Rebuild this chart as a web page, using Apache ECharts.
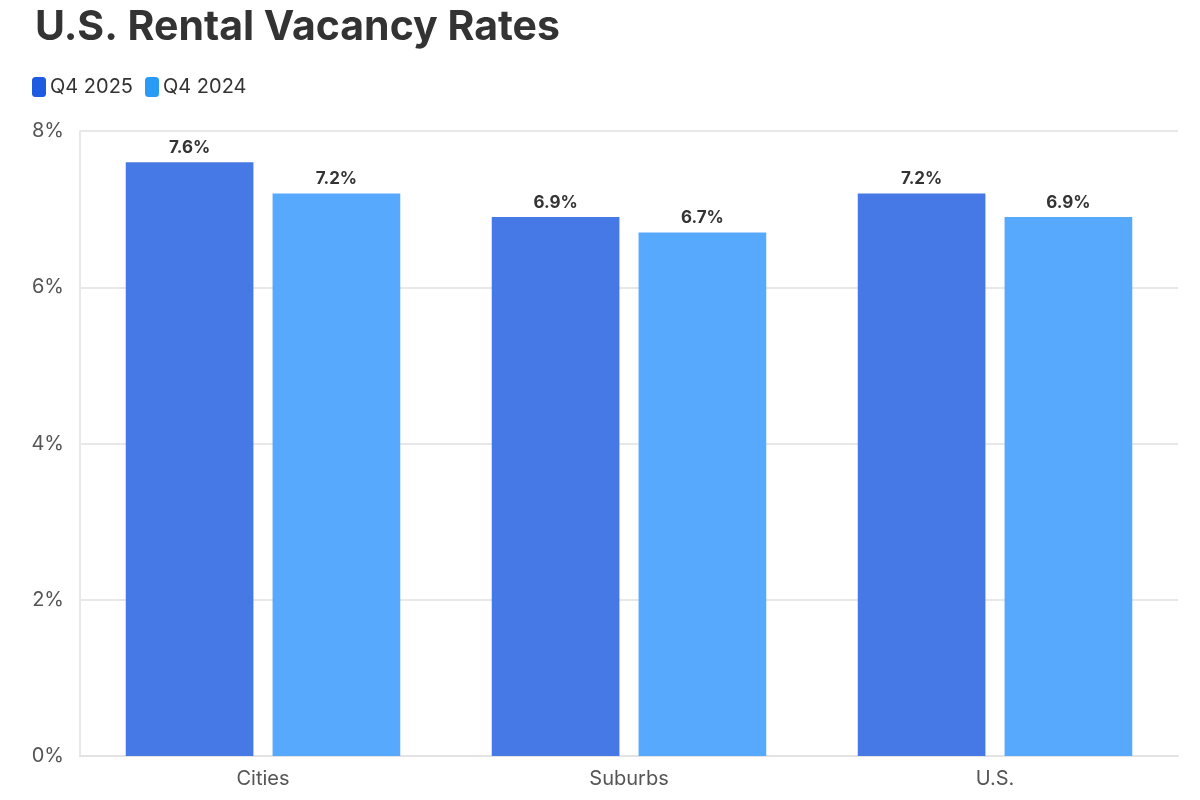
<!DOCTYPE html>
<html><head><meta charset="utf-8">
<script src="https://cdn.jsdelivr.net/npm/echarts@6/dist/echarts.min.js"></script>
<style>html,body{margin:0;padding:0;background:#fff}#c{width:1200px;height:800px}</style>
</head><body><div id="c"></div>
<script>
const categories = ['Cities', 'Suburbs', 'U.S.'];
const seriesNames = ['Q4 2025', 'Q4 2024'];
const q42025 = [7.6, 6.9, 7.2];
const q42024 = [7.2, 6.7, 6.9];
const yTicks = [0, 2, 4, 6, 8];

const barColors = ['#4678E6', '#56A9FD'];
const legendColors = ['#1E5BE0', '#2A9BF5'];
const font = 'Inter, "Open Sans", sans-serif';

const chart = echarts.init(document.getElementById('c'), null, {renderer: 'canvas'});
const mkSeries = (name, data, i) => ({
  name, type: 'bar', data,
  itemStyle: {color: barColors[i]},
  barGap: '15%', barCategoryGap: '25%',
  label: {show: true, position: 'top', distance: 6, formatter: p => p.value.toFixed(1) + '%',
    color: '#333', fontWeight: 'bold', fontSize: 17, fontFamily: font}
});
chart.setOption({
  animation: false,
  title: {text: 'U.S. Rental Vacancy Rates', left: 30, top: 2,
    textStyle: {fontSize: 41, fontWeight: 'bold', color: '#333', fontFamily: font}},
  legend: {left: 27, top: 72, itemWidth: 14, itemHeight: 20, itemGap: 12, icon: 'roundRect',
    textStyle: {fontSize: 20, color: '#333', fontFamily: font, padding: [0, 0, 0, -1]},
    data: seriesNames.map((n, i) => ({name: n, itemStyle: {color: legendColors[i]}}))},
  grid: {left: 80, right: 22, top: 131, bottom: 44, containLabel: false},
  xAxis: {type: 'category', data: categories,
    axisLine: {lineStyle: {color: '#e3e3e3', width: 2}},
    axisTick: {alignWithLabel: true, length: 6, lineStyle: {color: '#e3e3e3', width: 2}},
    axisLabel: {fontSize: 20, color: '#555', margin: 13, fontFamily: font}},
  yAxis: {type: 'value', min: yTicks[0], max: yTicks[yTicks.length - 1], interval: 2,
    axisLine: {show: true, lineStyle: {color: '#e8e8e8', width: 2}},
    axisLabel: {fontSize: 20, color: '#555', margin: 16, formatter: v => v + '%', fontFamily: font},
    splitLine: {lineStyle: {color: '#e8e8e8', width: 2}}},
  series: [mkSeries(seriesNames[0], q42025, 0), mkSeries(seriesNames[1], q42024, 1)]
});
</script></body></html>
